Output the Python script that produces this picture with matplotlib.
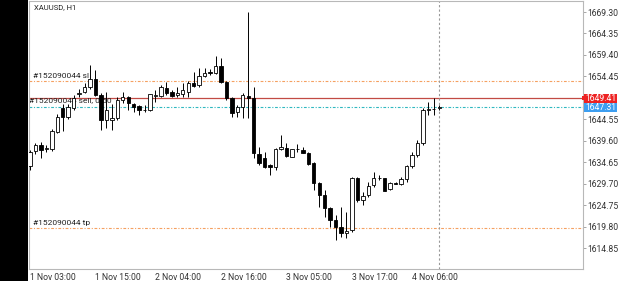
import matplotlib
matplotlib.use("Agg")
import matplotlib.pyplot as plt
from matplotlib.patches import Rectangle
from matplotlib.transforms import blended_transform_factory
import numpy as np

plt.rcParams['font.family'] = ['Roboto', 'DejaVu Sans']

# ---- data ----
opens = [1633.77, 1637.12, 1638.62, 1637.81, 1637.70, 1641.73, 1647.15, 1645.08, 1647.15, 1650.27,
         1650.85, 1652.00, 1653.96, 1650.15, 1644.39, 1644.39, 1644.85, 1649.00, 1649.58, 1648.08,
         1647.73, 1646.69, 1646.58, 1649.81, 1649.81, 1651.88, 1650.85, 1650.15, 1650.38, 1650.96,
         1652.81, 1652.35, 1654.54, 1655.34, 1655.16, 1656.91, 1653.22, 1649.39, 1646.30, 1647.45,
         1649.99, 1649.39, 1636.54, 1635.55, 1634.00, 1633.61, 1637.70, 1637.86, 1635.92, 1637.58,
         1637.46, 1636.84, 1634.40, 1629.78, 1627.08, 1624.02, 1621.32, 1619.77, 1618.25, 1619.01,
         1630.94, 1625.93, 1627.08, 1629.39, 1630.89, 1630.94, 1628.40, 1629.92, 1629.62, 1630.71,
         1633.77, 1636.31, 1639.01, 1646.69, 1646.81, 1647.04]
highs = [1637.46, 1639.08, 1639.31, 1638.62, 1642.31, 1645.77, 1648.08, 1648.08, 1650.15, 1651.54,
         1652.92, 1657.07, 1655.92, 1650.61, 1650.85, 1648.08, 1649.69, 1650.85, 1649.92, 1648.31,
         1647.96, 1647.85, 1650.38, 1651.31, 1652.46, 1653.15, 1651.31, 1652.00, 1652.92, 1653.38,
         1655.46, 1656.38, 1656.38, 1656.15, 1659.15, 1658.69, 1653.38, 1649.69, 1647.85, 1650.61,
         1669.37, 1652.00, 1638.16, 1637.00, 1634.12, 1637.93, 1640.93, 1639.08, 1637.81, 1638.85,
         1638.23, 1637.00, 1634.70, 1630.08, 1628.24, 1624.38, 1622.47, 1624.38, 1623.23, 1631.31,
         1631.17, 1627.85, 1630.15, 1632.46, 1631.70, 1631.01, 1630.08, 1629.97, 1631.31, 1634.00,
         1637.07, 1639.77, 1647.09, 1648.61, 1649.46, 1647.85]
lows = [1632.85, 1636.54, 1635.62, 1637.00, 1637.23, 1641.39, 1641.85, 1644.62, 1646.69, 1649.69,
        1650.61, 1651.54, 1649.92, 1642.08, 1642.54, 1642.08, 1644.39, 1648.31, 1646.69, 1646.23,
        1645.54, 1646.23, 1646.46, 1648.65, 1649.69, 1650.15, 1649.69, 1649.69, 1649.69, 1649.69,
        1652.00, 1652.00, 1654.31, 1654.77, 1655.11, 1652.92, 1649.00, 1645.15, 1645.15, 1644.85,
        1644.85, 1635.62, 1634.00, 1633.31, 1631.70, 1632.85, 1637.46, 1635.85, 1635.85, 1637.00,
        1636.66, 1634.00, 1628.24, 1624.38, 1622.08, 1619.77, 1616.70, 1617.46, 1617.09, 1618.62,
        1625.54, 1624.78, 1626.69, 1629.00, 1630.54, 1627.89, 1628.24, 1629.51, 1629.39, 1630.15,
        1633.24, 1635.92, 1638.62, 1645.54, 1645.54, 1646.69]
closes = [1637.00, 1638.62, 1637.46, 1637.93, 1641.85, 1645.08, 1645.08, 1647.39, 1649.46, 1650.73,
          1652.00, 1653.96, 1650.15, 1644.39, 1646.69, 1644.85, 1649.00, 1649.58, 1648.31, 1647.39,
          1646.69, 1646.62, 1650.27, 1650.11, 1652.00, 1650.61, 1649.92, 1650.61, 1651.31, 1652.81,
          1652.23, 1654.54, 1655.34, 1655.23, 1656.91, 1653.22, 1649.39, 1645.93, 1647.45, 1650.15,
          1649.53, 1636.70, 1634.40, 1633.61, 1633.61, 1637.70, 1638.23, 1636.08, 1637.63, 1637.65,
          1636.84, 1634.24, 1629.78, 1627.08, 1624.02, 1621.32, 1619.77, 1618.25, 1618.85, 1630.94,
          1625.93, 1626.85, 1629.23, 1630.94, 1630.96, 1628.01, 1629.92, 1629.55, 1630.71, 1633.77,
          1636.31, 1639.01, 1646.69, 1646.81, 1646.92, 1647.31]

time_labels = ["1 Nov 03:00", "1 Nov 15:00", "2 Nov 04:00", "2 Nov 16:00",
               "3 Nov 05:00", "3 Nov 17:00", "4 Nov 06:00"]
time_label_bars = [0, 12, 23, 35, 47, 59, 70]

price_ticks = [1669.30, 1664.35, 1659.40, 1654.45, 1644.55, 1639.60,
               1634.65, 1629.70, 1624.75, 1619.80, 1614.85]

symbol_title = "XAUUSD, H1"
order_open = 1649.41
bid_price = 1647.31
sl_price = 1653.38
tp_price = 1619.47
sl_label = "#152090044 sl"
tp_label = "#152090044 tp"
order_label = "#152090044 sell, 0.50"

# ---- figure ----
W, H = 625, 281
fig = plt.figure(figsize=(W / 100, H / 100), dpi=100)
fig.patch.set_facecolor('white')
fig.patches.append(Rectangle((0, 0), 28 / W, 1, transform=fig.transFigure,
                             facecolor='black', edgecolor='none', zorder=0))

ax = fig.add_axes([29 / W, 1 - 269 / H, (583 - 29) / W, 268 / H])
ax.set_facecolor('white')

n = len(opens)
x = np.arange(n)
ax.set_xlim(-0.18, 101.34)
ax.set_ylim(1610.01, 1671.84)

# horizontal levels
dashdot = (0, (2.5, 1.5, 1, 1.5))
ax.axhline(sl_price, color='#f5a060', lw=0.8, ls=dashdot, zorder=1)
ax.axhline(tp_price, color='#f5a060', lw=0.8, ls=dashdot, zorder=1)
ax.axhline(bid_price, color='#30b8c0', lw=0.8, ls=dashdot, zorder=1)
ax.axhline(order_open, color='#c24a44', lw=0.9, zorder=1)

# level labels (beneath candles)
ax.text(0.6, sl_price + 0.4, sl_label, fontsize=6, color='#222222', va='bottom', ha='left', zorder=2)
ax.text(0.6, tp_price + 0.4, tp_label, fontsize=6, color='#222222', va='bottom', ha='left', zorder=2)
ax.text(-0.15, order_open - 0.45, order_label, fontsize=6, color='#222222', va='center', ha='left', zorder=2)

# candles
bw = 0.62
for i in range(n):
    o, h, l, c = opens[i], highs[i], lows[i], closes[i]
    ax.vlines(x[i], l, h, color='black', lw=0.7, zorder=3)
    bottom = min(o, c)
    height = max(abs(c - o), 0.12)
    fc = 'white' if c >= o else 'black'
    ax.add_patch(Rectangle((x[i] - bw / 2, bottom), bw, height, facecolor=fc,
                           edgecolor='black', lw=0.6, zorder=4))

# current bar vertical dotted line
ax.axvline(x[-1], color='#999999', lw=0.8, ls=(0, (2, 2)), zorder=2)

# title
ax.text(0.8, 1671.0, symbol_title, fontsize=5.5, color='#222222', va='top', ha='left', zorder=5)

# axes styling
for s in ax.spines.values():
    s.set_color('#b8b8b8')
    s.set_linewidth(0.8)
ax.yaxis.tick_right()
ax.set_yticks(price_ticks)
ax.set_yticklabels([f"{p:.2f}" for p in price_ticks])
ax.tick_params(axis='y', length=2, width=0.6, color='#999999', pad=1,
               labelsize=6.2, labelcolor='#333333')
ax.set_xticks(time_label_bars)
ax.set_xticklabels(time_labels)
ax.tick_params(axis='x', length=0, pad=3, labelsize=6.2, labelcolor='#333333')
for lab in ax.get_xticklabels():
    lab.set_horizontalalignment('left')

# price boxes on the right
tr = blended_transform_factory(ax.transAxes, ax.transData)
x0 = (584 - 29) / 554
bwid = (617 - 584) / 554
for price, col in [(order_open, '#ee2222'), (bid_price, '#3d9ef0')]:
    ax.add_patch(Rectangle((x0, price - 1.03), bwid, 2.06, transform=tr, facecolor=col,
                           edgecolor='none', clip_on=False, zorder=6))
    ax.text(x0 + bwid / 2, price, f"{price:.2f}", transform=tr, color='white', fontsize=6.2,
            ha='center', va='center', clip_on=False, zorder=7)
ax.add_patch(Rectangle((1.0 - 0.002, order_open - 0.5), 0.006, 1.0, transform=tr,
                       facecolor='#ee2222', edgecolor='none', clip_on=False, zorder=6))

fig.savefig('out.png', dpi=100)
